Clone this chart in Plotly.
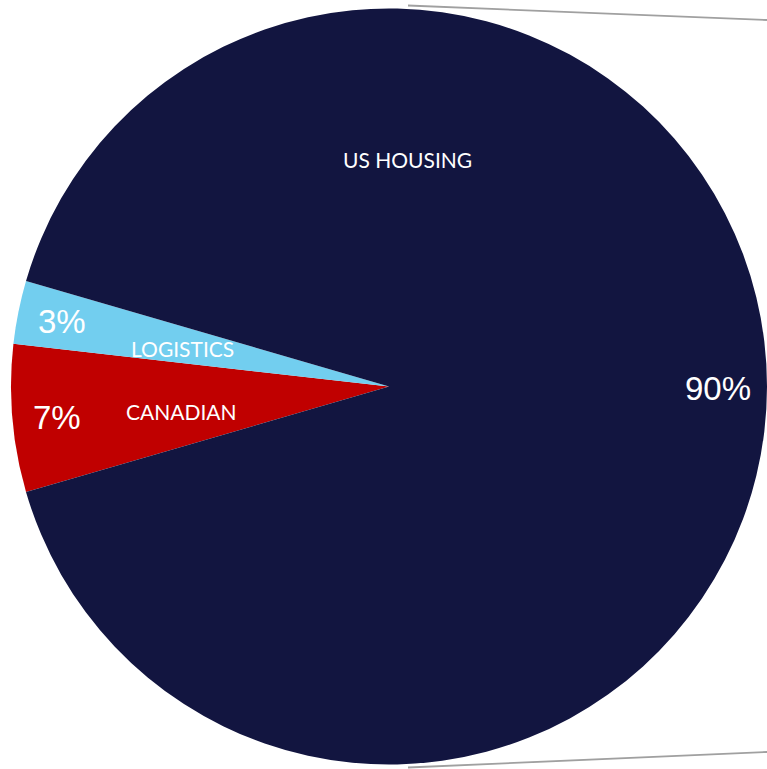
import plotly.graph_objects as go

# Data
categories = ["CANADIAN", "LOGISTICS", "US HOUSING"]
values = [6.3, 2.7, 91.0]
pct_labels = ["7%", "3%", "90%"]
colors = ["#C00000", "#72CEEF", "#121540"]

W, H = 767, 769

fig = go.Figure()
fig.add_trace(go.Pie(
    labels=categories,
    values=values,
    sort=False,
    direction="clockwise",
    rotation=253.8,
    marker=dict(colors=colors, line=dict(width=0)),
    textinfo="none",
    hoverinfo="label+percent",
    showlegend=False,
    domain=dict(x=[11 / W, 1], y=[3 / H, 1 - 7 / H]),
))

# label positions (pixels from top-left)
cat_pos = {"CANADIAN": (181, 411), "LOGISTICS": (182, 349), "US HOUSING": (407, 159)}
pct_pos = {"CANADIAN": (57, 417), "LOGISTICS": (62, 321), "US HOUSING": (718, 388)}

annotations = []
for cat, pct in zip(categories, pct_labels):
    cx, cy = cat_pos[cat]
    annotations.append(dict(
        x=cx / W, y=1 - cy / H, xref="paper", yref="paper",
        text=cat, showarrow=False, xanchor="center", yanchor="middle",
        font=dict(family="Lato, sans-serif", size=21, color="white"),
    ))
    px, py = pct_pos[cat]
    annotations.append(dict(
        x=px / W, y=1 - py / H, xref="paper", yref="paper",
        text=pct, showarrow=False, xanchor="center", yanchor="middle",
        font=dict(family="Liberation Sans, Arial, sans-serif", size=33, color="white"),
    ))

shapes = [
    dict(type="line", xref="paper", yref="paper",
         x0=408 / W, y0=1 - 5.5 / H, x1=1, y1=1 - 20 / H,
         line=dict(color="#A0A0A0", width=1.8)),
    dict(type="line", xref="paper", yref="paper",
         x0=408 / W, y0=1 - 767.5 / H, x1=1, y1=1 - 752 / H,
         line=dict(color="#A0A0A0", width=1.8)),
]

fig.update_layout(
    width=W, height=H,
    margin=dict(l=0, r=0, t=0, b=0),
    paper_bgcolor="white",
    plot_bgcolor="white",
    annotations=annotations,
    shapes=shapes,
)

fig.write_html("out.html",
               config={"displayModeBar": False},
               post_script="document.body.style.margin='0';document.body.style.overflow='hidden';")
